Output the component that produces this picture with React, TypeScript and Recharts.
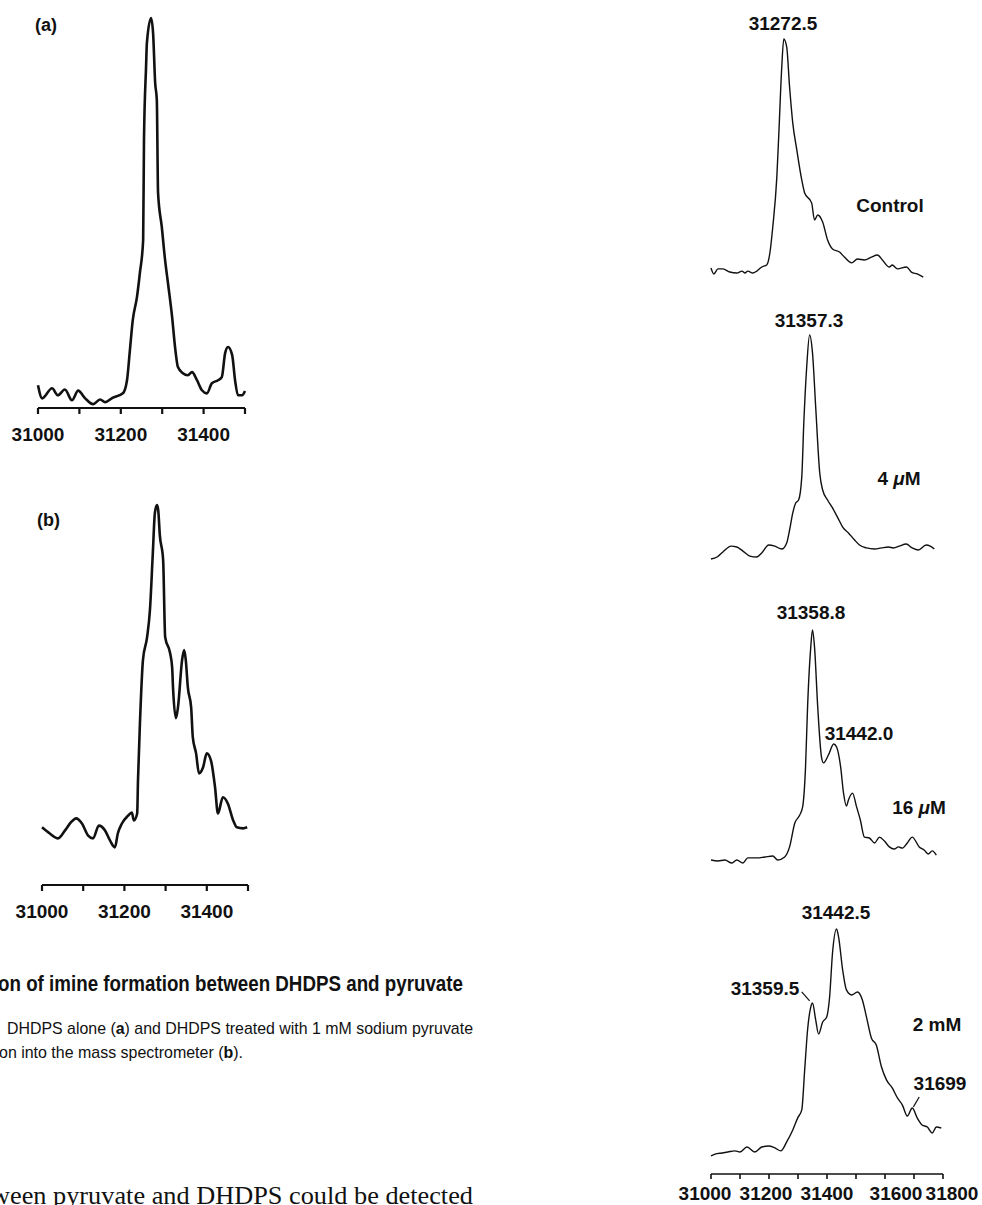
import { LineChart, Line, XAxis, YAxis, ReferenceLine } from "recharts";

// [mass (Da), relative intensity %]
const SPEC_A: [number, number][] = [
  [31000, 4.9], [31010, 1.5], [31034, 4.1], [31048, 2.3], [31065, 3.8], [31082, 1.0],
  [31097, 3.5], [31114, 1.5], [31133, 0], [31150, 1.2], [31162, 0.5], [31181, 1.7],
  [31205, 2.8], [31215, 6.2], [31222, 14.0], [31229, 21.8], [31239, 27.7], [31246, 33.9],
  [31254, 42.5], [31256, 68.4], [31261, 87.3], [31263, 93.5], [31273, 100], [31278, 96.1],
  [31283, 83.2], [31287, 78.8], [31290, 54.7], [31299, 45.9], [31307, 37.3], [31314, 31.3],
  [31324, 22.5], [31331, 14.8], [31338, 9.6], [31350, 8.0], [31362, 7.5], [31372, 8.3],
  [31384, 6.2], [31396, 3.6], [31408, 2.8], [31420, 5.4], [31435, 6.2], [31444, 7.0],
  [31452, 13.2], [31459, 14.8], [31469, 12.7], [31476, 6.2], [31483, 2.3], [31493, 2.3],
  [31500, 3.4],
];

const SPEC_B: [number, number][] = [
  [31000, 6.7], [31019, 4.9], [31039, 3.5], [31056, 5.8], [31070, 8.1], [31083, 9.3],
  [31097, 7.8], [31112, 4.3], [31124, 3.5], [31138, 7.2], [31153, 5.8], [31165, 2.9],
  [31177, 0.9], [31184, 4.9], [31194, 7.8], [31209, 10.1], [31218, 11.0], [31223, 8.7],
  [31231, 10.7], [31233, 20.3], [31238, 37.7], [31245, 55.1], [31255, 61.7], [31262, 69.6],
  [31269, 86.1], [31274, 97.7], [31279, 100], [31282, 98.6], [31286, 91.3], [31294, 84.1],
  [31299, 61.7], [31311, 57.1], [31316, 52.8], [31318, 47.2], [31325, 38.3], [31330, 41.4],
  [31340, 55.1], [31345, 58.0], [31349, 55.1], [31354, 47.2], [31362, 41.4], [31366, 32.8],
  [31374, 28.1], [31381, 22.3], [31391, 24.1], [31400, 28.1], [31410, 26.1], [31420, 18.3],
  [31427, 10.7], [31439, 15.4], [31451, 13.6], [31464, 8.7], [31473, 6.7], [31488, 6.4],
  [31498, 6.7],
];

const SPEC_CONTROL: [number, number][] = [
  [31000, 5.0], [31010, 2.5], [31024, 4.6], [31041, 4.6], [31065, 3.3], [31089, 2.9],
  [31107, 3.7], [31117, 2.9], [31127, 3.7], [31144, 2.9], [31158, 3.7], [31175, 5.4],
  [31192, 6.2], [31203, 11.2], [31213, 22.0], [31227, 42.7], [31234, 61.0], [31244, 88.4],
  [31251, 100], [31261, 96.7], [31271, 80.1], [31282, 65.1], [31296, 53.9], [31313, 41.5],
  [31323, 36.1], [31347, 32.0], [31357, 24.9], [31368, 27.0], [31385, 24.1], [31402, 16.6],
  [31419, 12.9], [31443, 11.6], [31460, 9.5], [31485, 7.1], [31505, 8.7], [31529, 8.3],
  [31553, 9.5], [31574, 10.4], [31591, 8.3], [31615, 5.4], [31625, 6.2], [31643, 4.6],
  [31674, 5.4], [31691, 3.3], [31711, 2.5], [31732, 1.2],
];

const SPEC_4UM: [number, number][] = [
  [31000, 1.3], [31021, 2.2], [31041, 4.4], [31069, 7.0], [31089, 6.6], [31110, 4.8],
  [31134, 2.6], [31158, 2.2], [31175, 4.0], [31199, 7.5], [31220, 7.0], [31244, 5.7],
  [31261, 8.4], [31271, 14.1], [31282, 21.6], [31292, 26.0], [31302, 27.3], [31313, 37.4],
  [31320, 61.2], [31330, 85.9], [31340, 100], [31350, 92.1], [31361, 68.3], [31375, 39.2],
  [31385, 31.7], [31402, 27.3], [31419, 23.8], [31436, 19.8], [31454, 15.4], [31474, 12.8],
  [31495, 9.7], [31512, 7.5], [31536, 6.2], [31564, 5.7], [31588, 6.2], [31612, 6.6],
  [31629, 6.2], [31649, 7.0], [31673, 7.9], [31694, 6.2], [31715, 5.3], [31742, 7.5],
  [31756, 7.0], [31770, 5.7],
];

const SPEC_16UM: [number, number][] = [
  [31000, 1.7], [31024, 1.3], [31048, 1.7], [31072, 0.4], [31089, 1.7], [31110, 0.4],
  [31127, 2.6], [31158, 2.6], [31186, 3.0], [31213, 3.4], [31230, 1.7], [31254, 3.0],
  [31271, 7.3], [31289, 17.5], [31306, 20.9], [31316, 24.4], [31326, 41.5], [31333, 67.1],
  [31344, 92.7], [31350, 100], [31357, 92.7], [31368, 67.1], [31381, 45.7], [31388, 43.2],
  [31405, 46.6], [31423, 51.3], [31433, 50.0], [31447, 41.5], [31457, 30.3], [31467, 24.8],
  [31474, 27.4], [31488, 30.3], [31502, 24.4], [31515, 18.8], [31529, 11.5], [31546, 11.1],
  [31564, 9.0], [31581, 11.5], [31598, 9.8], [31615, 7.3], [31632, 6.4], [31646, 7.3],
  [31660, 6.8], [31677, 9.0], [31694, 11.5], [31718, 7.3], [31735, 6.0], [31749, 4.3],
  [31763, 5.6], [31777, 3.8],
];

const SPEC_2MM: [number, number][] = [
  [31000, 0.9], [31014, 1.7], [31038, 2.2], [31058, 2.6], [31082, 3.1], [31100, 2.6],
  [31124, 4.8], [31151, 2.6], [31175, 4.8], [31199, 5.2], [31220, 4.4], [31241, 3.1],
  [31261, 7.0], [31282, 12.2], [31299, 17.5], [31313, 21.0], [31323, 38.4], [31333, 55.9],
  [31344, 65.9], [31350, 67.7], [31361, 60.3], [31371, 54.1], [31385, 59.4], [31399, 61.6],
  [31409, 70.3], [31419, 89.5], [31433, 100], [31440, 96.5], [31454, 82.1], [31467, 73.4],
  [31485, 71.2], [31505, 72.5], [31522, 69.0], [31536, 61.6], [31553, 52.4], [31570, 49.3],
  [31588, 39.7], [31605, 34.1], [31625, 30.6], [31643, 26.2], [31660, 23.1], [31677, 18.3],
  [31694, 21.8], [31711, 17.5], [31728, 14.4], [31746, 13.5], [31763, 10.9], [31777, 13.5],
  [31794, 13.1],
];

const TICKS_LEFT = [31000, 31100, 31200, 31300, 31400, 31500];
const LABELS_LEFT = [31000, 31200, 31400];
const TICKS_RIGHT = [31000, 31100, 31200, 31300, 31400, 31500, 31600, 31700, 31800];
const LABELS_RIGHT = [31000, 31200, 31400, 31600, 31800];
// the printed labels on the lower axis are not quite centred under their ticks
const NUDGE_RIGHT: Record<number, number> = { 31000: -6, 31200: -3, 31600: 11, 31800: 9 };

const SANS = "'Liberation Sans', Arial, Helvetica, sans-serif";
const INK = "#111";

function TickLabel(props: any) {
  const { x, y, payload, labels, nudge, fontSize } = props;
  if (!labels.includes(payload.value)) return <g />;
  const dx = nudge ? nudge[payload.value] ?? 0 : 0;
  return (
    <text x={x + dx} y={y} dy="0.71em" textAnchor="middle" fontSize={fontSize}
      fontWeight="bold" fontFamily={SANS} fill={INK}>
      {payload.value}
    </text>
  );
}

interface AxisOpts {
  ticks: number[];
  labels: number[];
  nudge?: Record<number, number>;
  tickSize: number;
  tickMargin: number;
  width: number;
}

interface SpecProps {
  data: [number, number][];
  left: number; // plot area left, px
  top: number; // plot area top, px
  plotW: number;
  plotH: number;
  xDomain: [number, number];
  yDomain: [number, number];
  strokeW: number;
  axis?: AxisOpts;
  children?: any;
}

function Spectrum({ data, left, top, plotW, plotH, xDomain, yDomain, strokeW, axis, children }: SpecProps) {
  const m = { top: 4, right: 40, bottom: 0, left: 40 };
  const axisH = axis ? 50 : 0;
  const rows = data.map(([mz, v]) => ({ mz, v }));
  return (
    <div style={{ position: "absolute", left: left - m.left, top: top - m.top }}>
      <LineChart width={plotW + m.left + m.right} height={plotH + m.top + m.bottom + axisH}
        data={rows} margin={m}>
        <XAxis type="number" dataKey="mz" domain={xDomain} hide={!axis} height={axisH}
          ticks={axis ? axis.ticks : undefined} interval={0}
          axisLine={{ stroke: INK, strokeWidth: axis?.width ?? 1 }}
          tickLine={{ stroke: INK, strokeWidth: axis?.width ?? 1 }}
          tickSize={axis?.tickSize ?? 5} tickMargin={axis?.tickMargin ?? 2}
          tick={(p: any) => (
            <TickLabel {...p} labels={axis?.labels ?? []} nudge={axis?.nudge} fontSize={19} />
          )} />
        <YAxis type="number" hide domain={yDomain} />
        <Line type="monotone" dataKey="v" stroke={INK} strokeWidth={strokeW} dot={false}
          isAnimationActive={false} strokeLinejoin="round" />
        {children}
      </LineChart>
    </div>
  );
}

export default function App() {
  const leftAxis = (w: number): AxisOpts => ({
    ticks: TICKS_LEFT, labels: LABELS_LEFT, tickSize: 6, tickMargin: 14, width: w,
  });
  return (
    <div style={{ position: "absolute", left: 0, top: 0, width: 982, height: 1205, background: "#fff", overflow: "hidden" }}>
      {/* (a) DHDPS alone */}
      <Spectrum data={SPEC_A} left={38} top={18} plotW={207} plotH={390}
        xDomain={[31000, 31500]} yDomain={[-1, 100]} strokeW={2.6} axis={leftAxis(2.2)} />
      {/* (b) DHDPS + 1 mM pyruvate */}
      <Spectrum data={SPEC_B} left={42} top={505} plotW={206} plotH={380}
        xDomain={[31000, 31500]} yDomain={[-10, 100]} strokeW={2.6} axis={leftAxis(2.2)} />

      {/* right-hand titration series */}
      <Spectrum data={SPEC_CONTROL} left={711} top={39} plotW={232} plotH={241}
        xDomain={[31000, 31800]} yDomain={[0, 100]} strokeW={1.4} />
      <Spectrum data={SPEC_4UM} left={711} top={335} plotW={232} plotH={227}
        xDomain={[31000, 31800]} yDomain={[0, 100]} strokeW={1.4} />
      <Spectrum data={SPEC_16UM} left={711} top={630} plotW={232} plotH={234}
        xDomain={[31000, 31800]} yDomain={[0, 100]} strokeW={1.4} />
      <Spectrum data={SPEC_2MM} left={711} top={929} plotW={232} plotH={245}
        xDomain={[31000, 31800]} yDomain={[-7, 100]} strokeW={1.4}
        axis={{ ticks: TICKS_RIGHT, labels: LABELS_RIGHT, nudge: NUDGE_RIGHT, tickSize: 5, tickMargin: 8, width: 1.6 }}>
        <ReferenceLine segment={[{ x: 31313, y: 72.5 }, { x: 31340, y: 68.6 }]} stroke={INK} strokeWidth={1.2} />
        <ReferenceLine segment={[{ x: 31718, y: 26.6 }, { x: 31698, y: 22.3 }]} stroke={INK} strokeWidth={1.2} />
      </Spectrum>

      <svg width={982} height={1205} style={{ position: "absolute", left: 0, top: 0, pointerEvents: "none" }}
        fontFamily={SANS} fill={INK}>
        <g fontWeight="bold" dominantBaseline="central">
          <text x={35} y={25} fontSize={18}>(a)</text>
          <text x={37} y={520} fontSize={18}>(b)</text>
          <g fontSize={19} textAnchor="middle">
            <text x={783} y={23}>31272.5</text>
            <text x={890} y={205}>Control</text>
            <text x={809} y={320}>31357.3</text>
            <text x={899} y={478}>4 <tspan fontStyle="italic">μ</tspan>M</text>
            <text x={811} y={612}>31358.8</text>
            <text x={859} y={733}>31442.0</text>
            <text x={919} y={807}>16 <tspan fontStyle="italic">μ</tspan>M</text>
            <text x={836} y={912}>31442.5</text>
            <text x={765} y={988}>31359.5</text>
            <text x={937} y={1024}>2 mM</text>
            <text x={940} y={1083}>31699</text>
          </g>
        </g>

        {/* figure caption (cropped on the left) */}
        <text x={-2} y={983} fontSize={22} fontWeight="bold" dominantBaseline="central"
          textLength={465} lengthAdjust="spacingAndGlyphs">
          on of imine formation between DHDPS and pyruvate
        </text>
        <text x={7} y={1028} fontSize={17} dominantBaseline="central"
          textLength={466} lengthAdjust="spacingAndGlyphs">
          DHDPS alone (<tspan fontWeight="bold">a</tspan>) and DHDPS treated with 1 mM sodium pyruvate
        </text>
        <text x={-1} y={1052} fontSize={17} dominantBaseline="central"
          textLength={244} lengthAdjust="spacingAndGlyphs">
          on into the mass spectrometer (<tspan fontWeight="bold">b</tspan>).
        </text>
        <text x={-9} y={1195} fontSize={25} dominantBaseline="central"
          fontFamily="'Liberation Serif', 'Times New Roman', serif"
          textLength={482} lengthAdjust="spacingAndGlyphs">
          ween pyruvate and DHDPS could be detected
        </text>
      </svg>
    </div>
  );
}
